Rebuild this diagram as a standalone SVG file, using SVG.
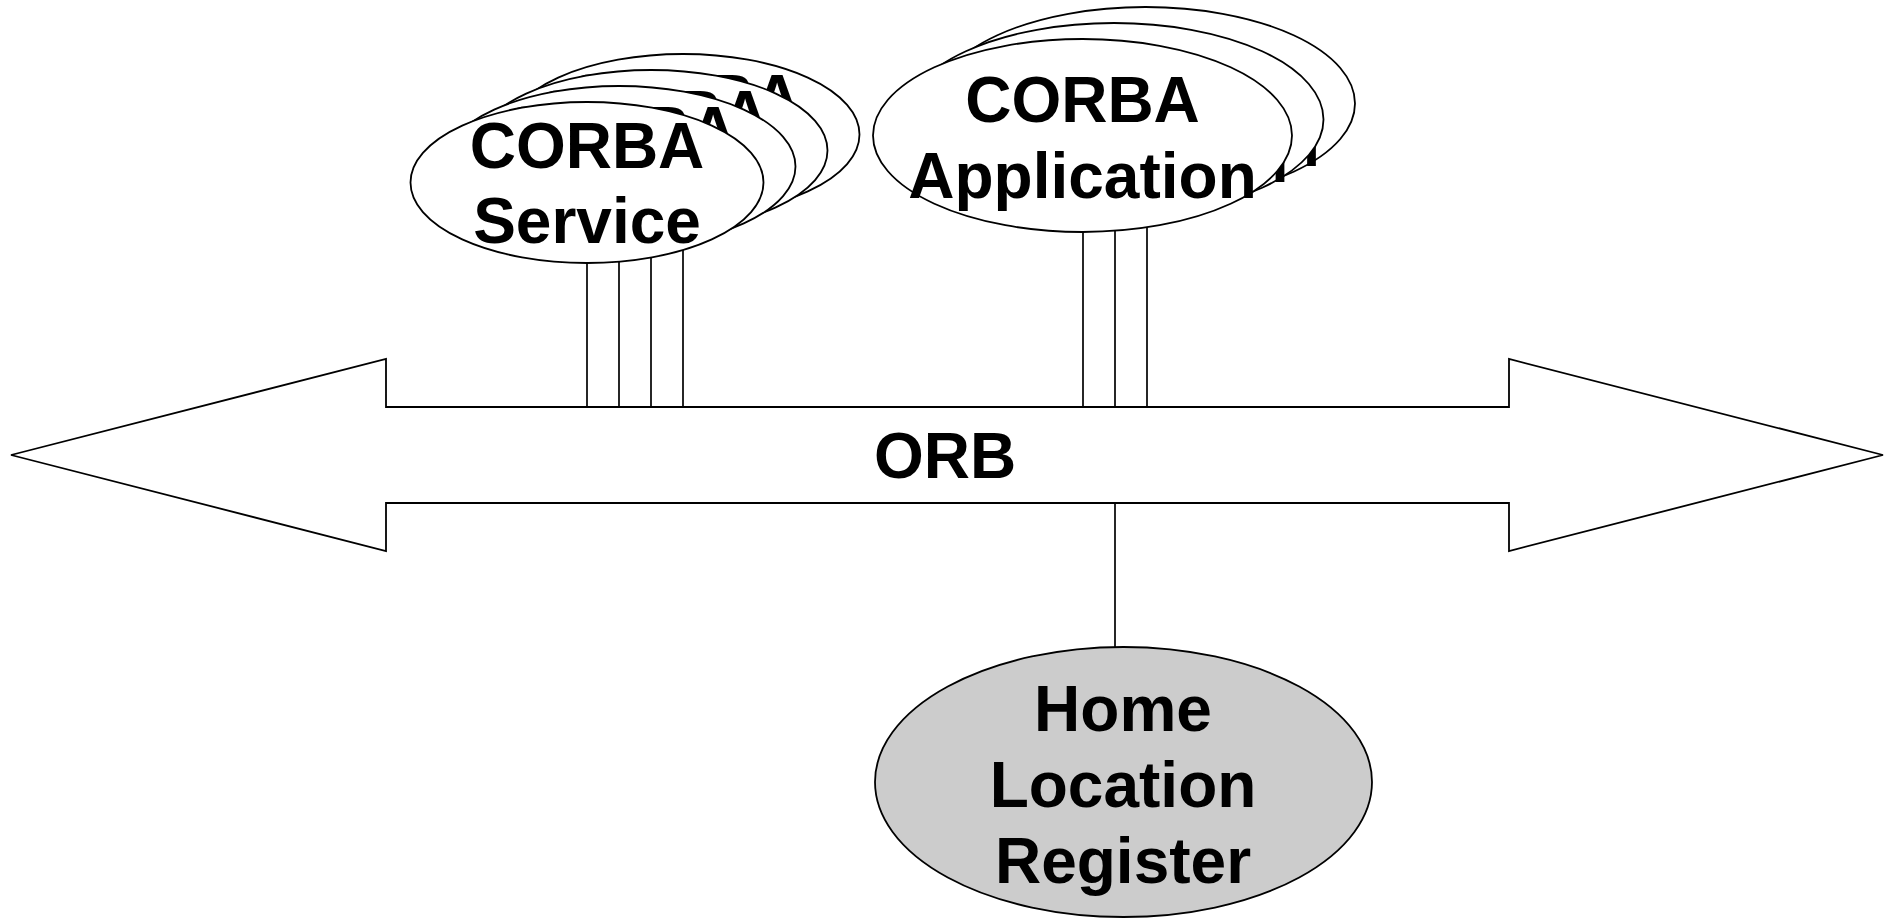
<svg xmlns="http://www.w3.org/2000/svg" width="1893" height="919" viewBox="0 0 1893 919">
<style>
.shape{fill:#ffffff;stroke:#000000;stroke-width:1.8}
.hlr{fill:#cccccc;stroke:#000000;stroke-width:1.8}
.conn{stroke:#000000;stroke-width:1.7;fill:none}
.lbl{font-family:"Liberation Sans",Arial,sans-serif;font-weight:bold;font-size:64px;fill:#000000;text-anchor:middle}
</style>
<rect width="1893" height="919" fill="#ffffff"/>
<g id="orb">
<polygon class="shape" points="11,455 386,359 386,407 1509,407 1509,359 1883,455 1509,551 1509,503 386,503 386,551"/>
<text class="lbl" x="945" y="478">ORB</text>
</g>
<g id="connectors">
<line class="conn" x1="587" y1="200" x2="587" y2="407"/>
<line class="conn" x1="619" y1="200" x2="619" y2="407"/>
<line class="conn" x1="651" y1="200" x2="651" y2="407"/>
<line class="conn" x1="683" y1="200" x2="683" y2="407"/>
<line class="conn" x1="1083" y1="200" x2="1083" y2="407"/>
<line class="conn" x1="1115" y1="200" x2="1115" y2="407"/>
<line class="conn" x1="1147" y1="200" x2="1147" y2="407"/>
<line class="conn" x1="1115" y1="503" x2="1115" y2="647"/>
</g>
<g id="service4" transform="translate(96,-48)">
<ellipse class="shape" cx="587" cy="182.5" rx="176.5" ry="80.5"/>
<text class="lbl" x="587" y="168">CORBA</text>
<text class="lbl" x="587" y="243">Service</text>
</g>
<g id="service3" transform="translate(64,-32)">
<ellipse class="shape" cx="587" cy="182.5" rx="176.5" ry="80.5"/>
<text class="lbl" x="587" y="168">CORBA</text>
<text class="lbl" x="587" y="243">Service</text>
</g>
<g id="service2" transform="translate(32,-16)">
<ellipse class="shape" cx="587" cy="182.5" rx="176.5" ry="80.5"/>
<text class="lbl" x="587" y="168">CORBA</text>
<text class="lbl" x="587" y="243">Service</text>
</g>
<g id="service1">
<ellipse class="shape" cx="587" cy="182.5" rx="176.5" ry="80.5"/>
<text class="lbl" x="587" y="168">CORBA</text>
<text class="lbl" x="587" y="243">Service</text>
</g>
<g id="application3" transform="translate(63,-32)">
<ellipse class="shape" cx="1082.5" cy="135.5" rx="209.5" ry="96.5"/>
<text class="lbl" x="1082.5" y="122">CORBA</text>
<text class="lbl" x="1082.5" y="198">Application</text>
</g>
<g id="application2" transform="translate(31.5,-16)">
<ellipse class="shape" cx="1082.5" cy="135.5" rx="209.5" ry="96.5"/>
<text class="lbl" x="1082.5" y="122">CORBA</text>
<text class="lbl" x="1082.5" y="198">Application</text>
</g>
<g id="application1">
<ellipse class="shape" cx="1082.5" cy="135.5" rx="209.5" ry="96.5"/>
<text class="lbl" x="1082.5" y="122">CORBA</text>
<text class="lbl" x="1082.5" y="198">Application</text>
</g>
<g id="hlr">
<ellipse class="hlr" cx="1123.5" cy="782" rx="248.5" ry="135"/>
<text class="lbl" x="1123" y="730.5">Home</text>
<text class="lbl" x="1123" y="807">Location</text>
<text class="lbl" x="1123" y="883">Register</text>
</g>
</svg>
